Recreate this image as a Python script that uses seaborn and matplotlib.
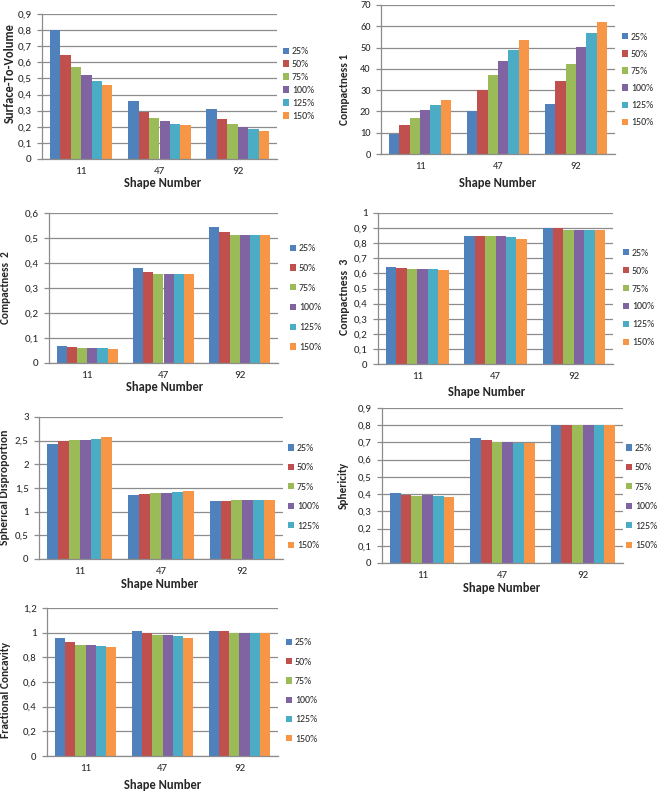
import numpy as np
import pandas as pd
import matplotlib
matplotlib.use("Agg")
import matplotlib.pyplot as plt
from matplotlib import font_manager as fm
from matplotlib.ticker import MultipleLocator, FuncFormatter, FixedLocator, NullFormatter
import seaborn as sns

sns.set_theme(style="white")
_fams = {f.name for f in fm.fontManager.ttflist}
if "Carlito" in _fams:
    BASE, SC = "Carlito", 1.0
else:
    BASE, SC = "Open Sans", 0.85
plt.rcParams['font.family'] = [BASE, 'DejaVu Sans']

shapes = ["11", "47", "92"]
scales = ["25%", "50%", "75%", "100%", "125%", "150%"]
colors = ["#4F81BD", "#C0504D", "#9BBB59", "#8064A2", "#4BACC6", "#F79646"]

# values per shape (rows) and scale (columns)
surface_to_volume = [[0.80, 0.645, 0.57, 0.52, 0.485, 0.46],
                     [0.36, 0.29, 0.255, 0.233, 0.215, 0.21],
                     [0.31, 0.25, 0.215, 0.20, 0.185, 0.175]]
compactness_1 = [[9.3, 13.5, 17.0, 20.5, 23.0, 25.3],
                 [20.0, 30.0, 37.0, 43.5, 49.0, 53.5],
                 [23.5, 34.5, 42.5, 50.5, 57.0, 62.0]]
compactness_2 = [[0.068, 0.064, 0.060, 0.060, 0.060, 0.057],
                 [0.380, 0.366, 0.355, 0.355, 0.355, 0.355],
                 [0.545, 0.523, 0.512, 0.512, 0.512, 0.512]]
compactness_3 = [[0.640, 0.635, 0.628, 0.628, 0.628, 0.620],
                 [0.850, 0.845, 0.845, 0.845, 0.838, 0.830],
                 [0.900, 0.900, 0.890, 0.890, 0.890, 0.890]]
spherical_disproportion = [[2.43, 2.49, 2.52, 2.52, 2.54, 2.58],
                           [1.36, 1.38, 1.40, 1.40, 1.42, 1.44],
                           [1.22, 1.22, 1.24, 1.24, 1.24, 1.24]]
sphericity = [[0.405, 0.397, 0.390, 0.397, 0.390, 0.385],
              [0.726, 0.716, 0.705, 0.705, 0.698, 0.698],
              [0.800, 0.800, 0.800, 0.800, 0.800, 0.800]]
fractional_concavity = [[0.955, 0.925, 0.900, 0.900, 0.895, 0.880],
                        [1.010, 0.995, 0.980, 0.980, 0.970, 0.955],
                        [1.015, 1.015, 1.000, 1.000, 1.000, 1.000]]

W, H = 657, 791
fig = plt.figure(figsize=(W / 100, H / 100), dpi=100)

# name, data, ymax, step, axes rect (l, t, r, b px), legend (x, center y, spacing),
# ylabel center (x, y, size), xlabel center (x, y), tick size
panels = [
    ("Surface-To-Volume", surface_to_volume, 0.9, 0.1, (42, 14, 277, 159), (283, 84, 0.40), (10, 73, 9.0), (163, 183), 8.0),
    ("Compactness 1", compactness_1, 70, 10, (381, 5, 615, 154), (622, 80, 0.82), (345, 89, 8.2), (498, 183), 7.5),
    ("Compactness  2", compactness_2, 0.6, 0.1, (49, 213, 278, 363), (290, 298, 1.09), (6, 288, 8.1), (165, 387), 8.0),
    ("Compactness  3", compactness_3, 1.0, 0.1, (378, 213, 613, 364), (623, 298, 0.90), (345, 297, 8.5), (487, 392), 7.8),
    ("Spherical Disproportion", spherical_disproportion, 3.0, 0.5, (39, 417, 283, 559), (288, 497, 1.06), (5, 487, 8.4), (160, 584), 7.8),
    ("Sphericity", sphericity, 0.9, 0.1, (382, 408, 623, 563), (626, 497, 1.06), (343, 485, 8.2), (502, 588), 7.8),
    ("Fractional Concavity", fractional_concavity, 1.2, 0.2, (47, 608, 278, 756), (286, 691, 1.04), (6, 690, 8.2), (163, 785), 7.8),
]

fmt = FuncFormatter(lambda v, p: f"{v:g}".replace('.', ','))
grid_c = "#8C8C8C"
text_c = "#262626"

for name, data, ymax, step, (l, t, r, b), (lx, ly, lsp), (ylx, yly, yls), (xlx, xly), tks in panels:
    rows = []
    for si, s in enumerate(shapes):
        for ki, k in enumerate(scales):
            rows.append({"shape": s, "scale": k, "value": data[si][ki]})
    df = pd.DataFrame(rows)
    ax = fig.add_axes([l / W, 1 - b / H, (r - l) / W, (b - t) / H])
    sns.barplot(data=df, x="shape", y="value", hue="scale", hue_order=scales, order=shapes,
                palette=colors, saturation=1, width=0.8, ax=ax, edgecolor="none",
                linewidth=0, errorbar=None)
    ax.set_ylim(0, ymax)
    ax.set_xlim(-0.5, 2.5)
    ax.yaxis.set_major_locator(MultipleLocator(step))
    ax.yaxis.set_major_formatter(fmt)
    ax.set_axisbelow(True)
    ax.yaxis.grid(True, color=grid_c, linewidth=0.9)
    ax.xaxis.grid(False)
    for sp in ["top", "right"]:
        ax.spines[sp].set_visible(False)
    for sp in ["left", "bottom"]:
        ax.spines[sp].set_color(grid_c)
        ax.spines[sp].set_linewidth(0.9)
    ax.xaxis.set_minor_locator(FixedLocator([-0.5, 0.5, 1.5, 2.5]))
    ax.xaxis.set_minor_formatter(NullFormatter())
    ax.tick_params(axis="x", which="major", length=0, pad=6, labelsize=tks * SC, labelcolor=text_c)
    ax.tick_params(axis="x", which="minor", length=4, width=0.9, color=grid_c, direction="out")
    ax.tick_params(axis="y", which="major", length=3.5, width=0.9, color=grid_c, direction="out",
                   pad=4, labelsize=tks * SC, labelcolor=text_c, left=True)
    ax.set_ylabel(name, fontsize=yls * SC, fontweight="bold", color=text_c)
    ax.set_xlabel("Shape Number", fontsize=9 * SC, fontweight="bold", color=text_c)
    ax.yaxis.set_label_coords((ylx - l) / (r - l), (b - yly) / (b - t))
    ax.yaxis.label.set_va("center")
    ax.xaxis.set_label_coords((xlx - l) / (r - l), (b - xly) / (b - t))
    ax.xaxis.label.set_va("center")
    handles, labels = ax.get_legend_handles_labels()
    ax.legend(handles, labels, loc="center left", bbox_to_anchor=(lx / W, 1 - ly / H),
              bbox_transform=fig.transFigure, frameon=False, fontsize=7.1 * SC,
              handlelength=0.6, handleheight=0.6, handletextpad=0.3,
              labelspacing=lsp, borderpad=0, borderaxespad=0, labelcolor=text_c)

fig.savefig("out.png", dpi=100, facecolor="white")
